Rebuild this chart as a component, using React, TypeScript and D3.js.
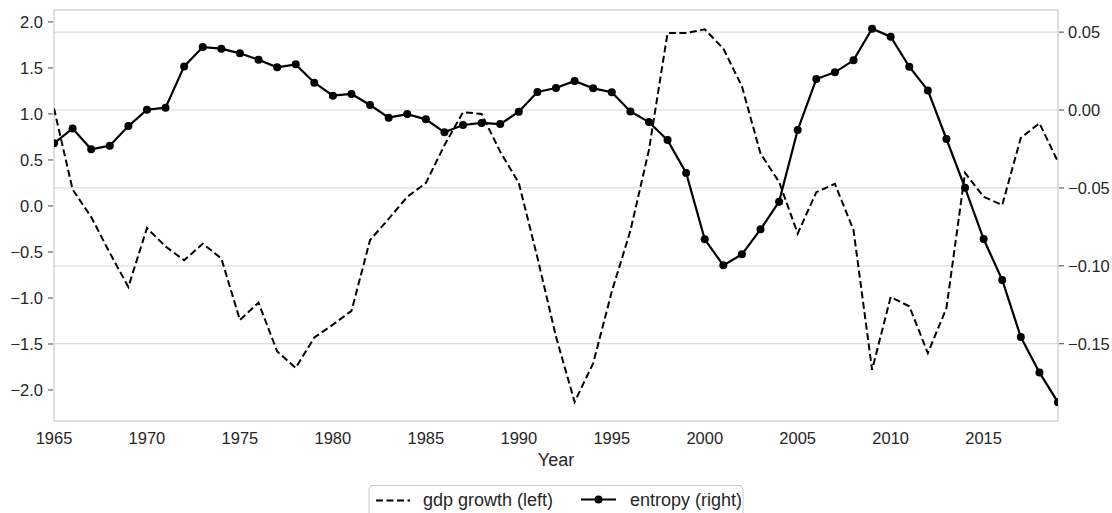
import * as d3 from "d3";
import { useEffect, useRef } from "react";

const W = 1112;
const H = 513;

const years = d3.range(1965, 2020);

// gdp growth, left axis
const gdp = [
  1.06, 0.18, -0.12, -0.51, -0.88, -0.24, -0.44, -0.59, -0.41, -0.57,
  -1.24, -1.05, -1.58, -1.76, -1.43, -1.29, -1.14, -0.37, -0.14, 0.1,
  0.25, 0.66, 1.02, 1.0, 0.59, 0.25, -0.56, -1.42, -2.13, -1.71,
  -0.93, -0.27, 0.61, 1.88, 1.88, 1.92, 1.71, 1.3, 0.57, 0.26,
  -0.3, 0.15, 0.24, -0.26, -1.78, -0.99, -1.09, -1.6, -1.11, 0.36,
  0.1, 0.01, 0.74, 0.9, 0.48,
];

// entropy, right axis
const entropy = [
  -0.0214, -0.0118, -0.0252, -0.0229, -0.0103, 0.0002, 0.0015, 0.028, 0.0404, 0.0394,
  0.0364, 0.0323, 0.0274, 0.0293, 0.0175, 0.0092, 0.0103, 0.0032, -0.0049, -0.0026,
  -0.006, -0.0143, -0.0096, -0.0083, -0.009, -0.0011, 0.0116, 0.0141, 0.0186, 0.0139,
  0.0114, -0.0009, -0.0077, -0.0193, -0.0404, -0.083, -0.0997, -0.0926, -0.0766, -0.0588,
  -0.0128, 0.0199, 0.0242, 0.0319, 0.0522, 0.0471, 0.0278, 0.0126, -0.0186, -0.0499,
  -0.0828, -0.1091, -0.1457, -0.1684, -0.1876,
];

const xTicks = [1965, 1970, 1975, 1980, 1985, 1990, 1995, 2000, 2005, 2010, 2015];
const leftTicks = [2.0, 1.5, 1.0, 0.5, 0.0, -0.5, -1.0, -1.5, -2.0];
const rightTicks = [0.05, 0.0, -0.05, -0.1, -0.15];

const FONT = "'Liberation Sans', Arial, sans-serif";
const TXT = "#262626";

const draw = (el: SVGSVGElement) => {
  const svg = d3.select(el);
  svg.selectAll("*").remove();

  const m = { left: 54, right: 1058, top: 10, bottom: 421 };
  const x = d3.scaleLinear().domain([1965, 2019]).range([m.left, m.right]);
  const yL = d3.scaleLinear().domain([-2.337, 2.13]).range([m.bottom, m.top]);
  const yR = d3.scaleLinear().domain([-0.1996, 0.0642]).range([m.bottom, m.top]);

  // grid from the right axis
  svg
    .append("g")
    .selectAll("line")
    .data(rightTicks)
    .join("line")
    .attr("x1", m.left)
    .attr("x2", m.right)
    .attr("y1", (d) => yR(d))
    .attr("y2", (d) => yR(d))
    .attr("stroke", "#dcdcdc")
    .attr("stroke-width", 1.2);

  // frame
  svg
    .append("rect")
    .attr("x", m.left)
    .attr("y", m.top)
    .attr("width", m.right - m.left)
    .attr("height", m.bottom - m.top)
    .attr("fill", "none")
    .attr("stroke", "#cccccc")
    .attr("stroke-width", 1.25);

  const fmtL = (d: number) => d3.format(".1f")(d).replace("-", "\u2212");
  const fmtR = (d: number) => d3.format(".2f")(d).replace("-", "\u2212");

  // left axis
  const gl = svg.append("g");
  gl.selectAll("line")
    .data(leftTicks)
    .join("line")
    .attr("x1", m.left - 6)
    .attr("x2", m.left - 1)
    .attr("y1", (d) => yL(d))
    .attr("y2", (d) => yL(d))
    .attr("stroke", "#444")
    .attr("stroke-width", 1);
  gl.selectAll("text")
    .data(leftTicks)
    .join("text")
    .attr("x", m.left - 11)
    .attr("y", (d) => yL(d) + 6)
    .attr("text-anchor", "end")
    .attr("font-family", FONT)
    .attr("font-size", 16.5)
    .attr("fill", TXT)
    .text(fmtL);

  // right axis
  const gr = svg.append("g");
  gr.selectAll("line")
    .data(rightTicks)
    .join("line")
    .attr("x1", m.right + 1)
    .attr("x2", m.right + 6)
    .attr("y1", (d) => yR(d))
    .attr("y2", (d) => yR(d))
    .attr("stroke", "#444")
    .attr("stroke-width", 1);
  gr.selectAll("text")
    .data(rightTicks)
    .join("text")
    .attr("x", m.right + 10)
    .attr("y", (d) => yR(d) + 6)
    .attr("font-family", FONT)
    .attr("font-size", 16.5)
    .attr("fill", TXT)
    .text(fmtR);

  // x axis labels
  svg
    .append("g")
    .selectAll("text")
    .data(xTicks)
    .join("text")
    .attr("x", (d) => x(d))
    .attr("y", 444)
    .attr("text-anchor", "middle")
    .attr("font-family", FONT)
    .attr("font-size", 16.5)
    .attr("fill", TXT)
    .text((d) => String(d));

  svg
    .append("text")
    .attr("x", (m.left + m.right) / 2)
    .attr("y", 466)
    .attr("text-anchor", "middle")
    .attr("font-family", FONT)
    .attr("font-size", 18)
    .attr("fill", TXT)
    .text("Year");

  // clip to plot
  svg
    .append("clipPath")
    .attr("id", "plot-clip")
    .append("rect")
    .attr("x", m.left)
    .attr("y", m.top)
    .attr("width", m.right - m.left)
    .attr("height", m.bottom - m.top);

  const plot = svg.append("g").attr("clip-path", "url(#plot-clip)");

  const gdpLine = d3
    .line<number>()
    .x((_, i) => x(years[i]))
    .y((d) => yL(d));
  plot
    .append("path")
    .attr("d", gdpLine(gdp))
    .attr("fill", "none")
    .attr("stroke", "#000")
    .attr("stroke-width", 2)
    .attr("stroke-dasharray", "7,3.5");

  const entLine = d3
    .line<number>()
    .x((_, i) => x(years[i]))
    .y((d) => yR(d));
  plot
    .append("path")
    .attr("d", entLine(entropy))
    .attr("fill", "none")
    .attr("stroke", "#000")
    .attr("stroke-width", 2.2);
  plot
    .selectAll("circle")
    .data(entropy)
    .join("circle")
    .attr("cx", (_, i) => x(years[i]))
    .attr("cy", (d) => yR(d))
    .attr("r", 4)
    .attr("fill", "#000");

  // legend
  const lg = svg.append("g");
  lg.append("rect")
    .attr("x", 369)
    .attr("y", 485.5)
    .attr("width", 374)
    .attr("height", 40)
    .attr("rx", 4)
    .attr("fill", "#fff")
    .attr("stroke", "#cccccc")
    .attr("stroke-width", 1);
  lg.append("line")
    .attr("x1", 376)
    .attr("x2", 410)
    .attr("y1", 500.5)
    .attr("y2", 500.5)
    .attr("stroke", "#000")
    .attr("stroke-width", 2)
    .attr("stroke-dasharray", "7,3.5");
  lg.append("text")
    .attr("x", 423)
    .attr("y", 506)
    .attr("font-family", FONT)
    .attr("font-size", 18)
    .attr("fill", TXT)
    .text("gdp growth (left)");
  lg.append("line")
    .attr("x1", 581)
    .attr("x2", 616)
    .attr("y1", 499.5)
    .attr("y2", 499.5)
    .attr("stroke", "#000")
    .attr("stroke-width", 2.2);
  lg.append("circle")
    .attr("cx", 598.5)
    .attr("cy", 499.5)
    .attr("r", 4)
    .attr("fill", "#000");
  lg.append("text")
    .attr("x", 630)
    .attr("y", 506)
    .attr("font-family", FONT)
    .attr("font-size", 18)
    .attr("fill", TXT)
    .text("entropy (right)");
};

export default function App() {
  const ref = useRef<SVGSVGElement>(null);
  useEffect(() => {
    if (!ref.current) return;
    draw(ref.current);
  }, []);
  return (
    <svg
      ref={ref}
      width={W}
      height={H}
      style={{ position: "absolute", left: 0, top: 0, background: "#fff" }}
    />
  );
}
